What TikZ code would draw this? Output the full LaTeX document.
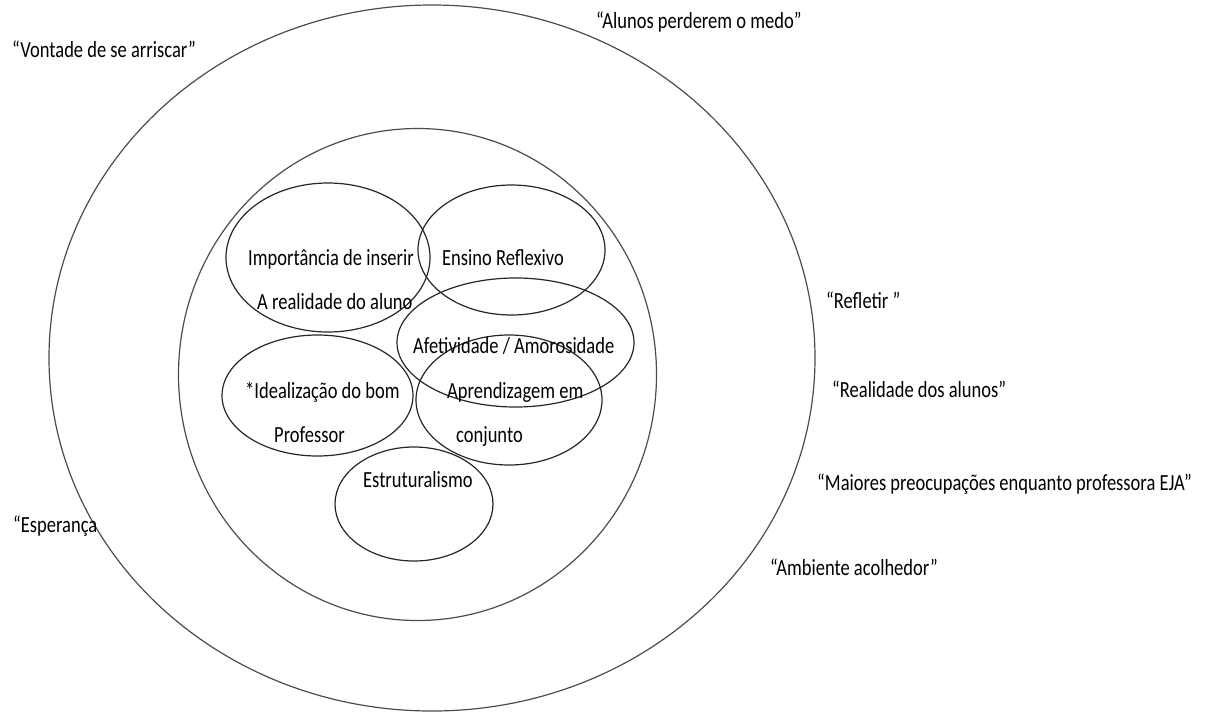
\documentclass[tikz,border=0pt]{standalone}
\usepackage{fontspec}
\setmainfont{Carlito}
\usepackage{graphicx}
\newcommand{\tx}[1]{\scalebox{1}[1.25]{#1}}
\begin{document}
\begin{tikzpicture}[x=1pt,y=-1pt,
  ring/.style={draw=black!70,line width=1.2pt},
  blob/.style={draw=black!85,line width=1.2pt},
  lbl/.style={anchor=base west,inner sep=0pt,text=black,font=\fontsize{18.5}{22}\selectfont}]
\useasboundingbox (0,0) rectangle (1212,713);
% rings
\draw[ring] (432,358) ellipse [x radius=383, y radius=353];
\draw[ring] (417.5,374.5) ellipse [x radius=239, y radius=246];
% inner ellipses
\draw[blob] (328,257.5) ellipse [x radius=102, y radius=74.5];
\draw[blob] (511.5,250) ellipse [x radius=93.5, y radius=65];
\draw[blob] (515.5,342.5) ellipse [x radius=118.5, y radius=64.5];
\draw[blob] (317.5,395.5) ellipse [x radius=95.5, y radius=60.5];
\draw[blob] (509,400) ellipse [x radius=93, y radius=65];
\draw[blob] (414,504) ellipse [x radius=79, y radius=57];
% inner labels
\node[lbl] (imp1) at (248,265) {\tx{Importância de inserir}};
\node[lbl] (imp2) at (257,309) {\tx{A realidade do aluno}};
\node[lbl] (ens) at (442,265) {\tx{Ensino Reflexivo}};
\node[lbl] (afe) at (413,353) {\tx{Afetividade / Amorosidade}};
\node[lbl] (ide1) at (245,398) {\tx{*Idealização do bom}};
\node[lbl] (ide2) at (274,442) {\tx{Professor}};
\node[lbl] (apr1) at (447,398) {\tx{Aprendizagem em}};
\node[lbl] (apr2) at (456,442) {\tx{conjunto}};
\node[lbl] (est) at (363,487) {\tx{Estruturalismo}};
% outer labels
\node[lbl] (von) at (12,57) {\tx{“Vontade de se arriscar”}};
\node[lbl] (alu) at (596,28) {\tx{“Alunos perderem o medo”}};
\node[lbl] (ref) at (826,308) {\tx{“Refletir ”}};
\node[lbl] (rea) at (832,397) {\tx{“Realidade dos alunos”}};
\node[lbl] (mai) at (817,490) {\tx{“Maiores preocupações enquanto professora EJA”}};
\node[lbl] (amb) at (770,575) {\tx{“Ambiente acolhedor”}};
\node[lbl] (esp) at (13,532) {\tx{“Esperança}};
\end{tikzpicture}
\end{document}
